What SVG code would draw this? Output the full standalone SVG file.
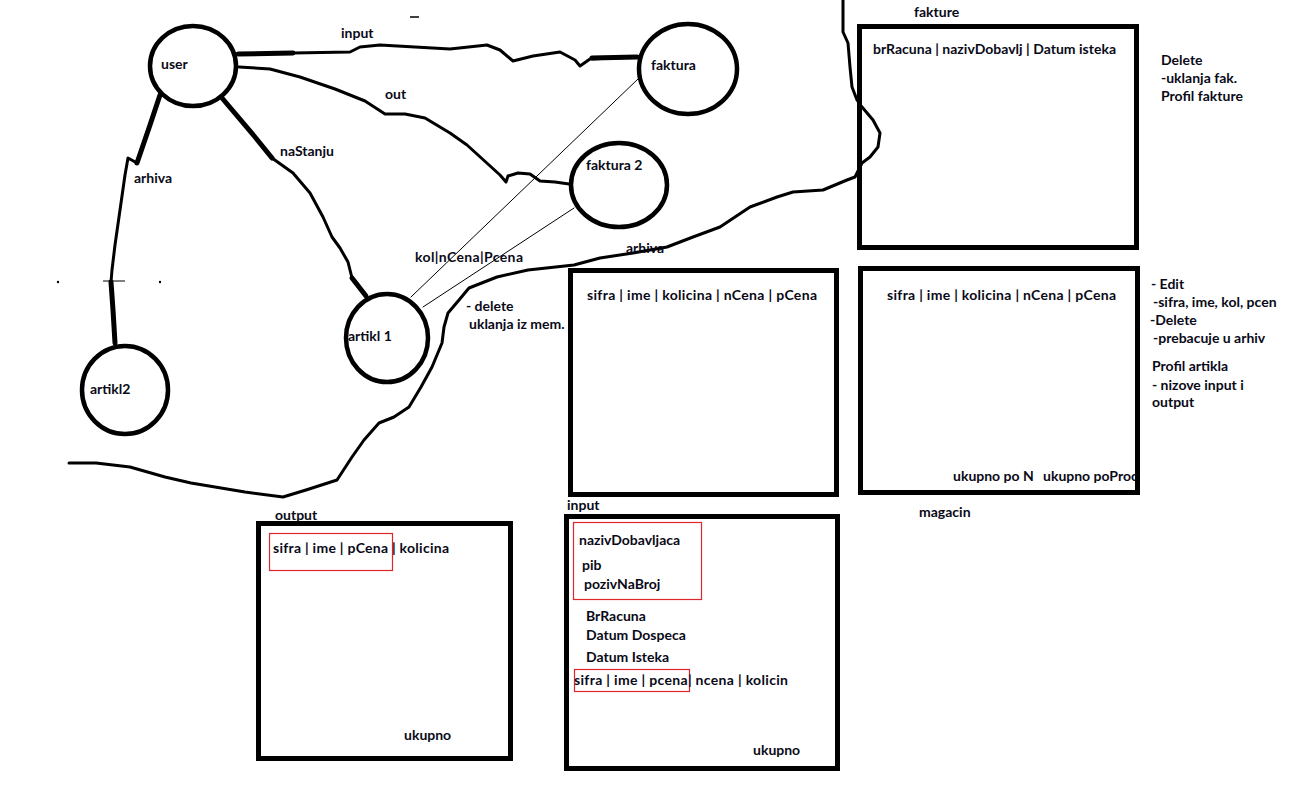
<svg xmlns="http://www.w3.org/2000/svg" width="1298" height="808" viewBox="0 0 1298 808">
<style>
.t{font-family:Lato,"Liberation Sans",sans-serif;font-weight:700;font-size:14px;fill:#0a0a18}
.node{fill:#fff;stroke:#000;stroke-width:4.5}
.box{fill:none;stroke:#000;stroke-width:5}
.hl{fill:none;stroke:#e0262b;stroke-width:1.2}
.wire{fill:none;stroke:#000;stroke-width:3;stroke-linejoin:round;stroke-linecap:round}
.thick{stroke-width:5}
.thin{stroke-width:1}
</style>
<rect width="1298" height="808" fill="#fff"/>
<g id="connectors">
  <!-- input: user -> faktura -->
  <path class="wire" d="M238,54 L293,53 L350,52 L360,47 L380,45 L450,49 L487,45 L500,50 L513,61 L533,56 L560,52 L575,60 L580,66 L590,59 L637,57"/>
  <path class="wire thick" d="M238,54 L293,53"/>
  <path class="wire thick" d="M592,58 L637,57"/>
  <!-- out: user -> faktura 2 -->
  <path class="wire" d="M239,67 L270,69 L300,77 L335,89 L365,101 L385,114 L405,114 L425,118 L450,133 L467,145 L500,175 L506,182 L508,176 L518,173 L530,174 L540,181 L555,182 L569,184"/>
  <!-- naStanju: user -> artikl 1 -->
  <path class="wire" d="M272,158 L293,173 L310,193 L323,217 L332,237 L340,248 L348,262 L352,278"/>
  <path class="wire thick" d="M222,98 L255,137 L272,158"/>
  <path class="wire thick" d="M352,278 L366,296"/>
  <!-- arhiva: user -> artikl2 -->
  <path class="wire thick" d="M160,95 L150,125 L137,163"/>
  <path class="wire" d="M137,163 L128,158 L125,175 L120,210 L115,245 L112,270 L111,282"/>
  <path class="wire thick" d="M111,282 L113,310 L115,343"/>
  <!-- kol|nCena|Pcena thin links -->
  <path class="wire thin" d="M411,297 L638,79"/>
  <path class="wire thin" d="M423,307 L574,208"/>
  <!-- big arhiva boundary -->
  <path class="wire" d="M843,0 L843,32 L848,43 L850,67 L852,87 L857,100 L862,107 L873,120 L880,133 L878,147 L870,157 L862,163 L855,177 L847,180 L823,190 L793,192 L777,197 L750,207 L720,227 L693,237 L667,247 L633,253 L600,258 L574,265 L528,270 L497,277 L469,288 L459,300 L448,313 L444,327 L442,343 L432,367 L421,387 L409,407 L394,417 L379,423 L364,440 L352,457 L337,480 L306,490 L283,497 L245,492 L191,483 L165,477 L130,467 L96,463 L69,463"/>
  <!-- stray marks -->
  <path d="M410,17 L419,17" stroke="#000" stroke-width="1.5"/>
  <path d="M103,281 L125,281" stroke="#000" stroke-width="1"/>
  <circle cx="58" cy="282" r="1.2" fill="#000"/>
  <circle cx="160" cy="282" r="1.2" fill="#000"/>
  <!-- connector labels -->
  <text class="t" x="341" y="38">input</text>
  <text class="t" x="385" y="99">out</text>
  <text class="t" x="280" y="156">naStanju</text>
  <text class="t" x="134" y="183">arhiva</text>
  <text class="t" x="415" y="262" textLength="108">kol|nCena|Pcena</text>
  <text class="t" x="626" y="253">arhiva</text>
  <text class="t" x="466" y="311">- delete</text>
  <text class="t" x="469" y="329">uklanja iz mem.</text>
</g>
<g id="user">
  <ellipse class="node" cx="193" cy="66" rx="43" ry="40"/>
  <text class="t" x="161" y="69">user</text>
</g>
<g id="faktura">
  <ellipse class="node" cx="688" cy="69" rx="49" ry="45"/>
  <text class="t" x="651" y="70">faktura</text>
</g>
<g id="faktura2">
  <ellipse class="node" cx="619" cy="185" rx="48" ry="42"/>
  <text class="t" x="586" y="170">faktura 2</text>
</g>
<g id="artikl1">
  <ellipse class="node" cx="387" cy="338" rx="41" ry="44"/>
  <text class="t" x="348" y="341">artikl 1</text>
</g>
<g id="artikl2">
  <ellipse class="node" cx="125" cy="390" rx="43" ry="44"/>
  <text class="t" x="90" y="394">artikl2</text>
</g>
<g id="fakture">
  <text class="t" x="914" y="17">fakture</text>
  <rect class="box" x="859.5" y="26.5" width="277" height="221"/>
  <text class="t" x="873" y="54" textLength="243">brRacuna | nazivDobavlj | Datum isteka</text>
  <text class="t" x="1161" y="65">Delete</text>
  <text class="t" x="1161" y="83">-uklanja fak.</text>
  <text class="t" x="1161" y="101">Profil fakture</text>
</g>
<g id="artikli">
  <rect class="box" x="570.5" y="270.5" width="266" height="224"/>
  <text class="t" x="587" y="300" textLength="230">sifra | ime | kolicina | nCena | pCena</text>
</g>
<g id="magacin">
  <rect class="box" x="860.5" y="268.5" width="277" height="224"/>
  <text class="t" x="887" y="300" textLength="229">sifra | ime | kolicina | nCena | pCena</text>
  <text class="t" x="953" y="481">ukupno po N</text>
  <text class="t" x="1043" y="481">ukupno poProc</text>
  <text class="t" x="919" y="517">magacin</text>
  <text class="t" x="1151" y="289">- Edit</text>
  <text class="t" x="1153" y="307">-sifra, ime, kol, pcen</text>
  <text class="t" x="1150" y="325">-Delete</text>
  <text class="t" x="1153" y="343">-prebacuje u arhiv</text>
  <text class="t" x="1152" y="371">Profil artikla</text>
  <text class="t" x="1152" y="390">- nizove input i</text>
  <text class="t" x="1152" y="407">output</text>
</g>
<g id="output">
  <text class="t" x="275" y="520">output</text>
  <rect class="box" x="258.5" y="523.5" width="252" height="235"/>
  <rect class="hl" x="269.5" y="533.5" width="123" height="37"/>
  <text class="t" x="273" y="553" textLength="176">sifra | ime | pCena | kolicina</text>
  <text class="t" x="404" y="740">ukupno</text>
</g>
<g id="input">
  <text class="t" x="567" y="510">input</text>
  <rect class="box" x="566.5" y="516.5" width="271" height="252"/>
  <rect class="hl" x="573.5" y="522.5" width="128" height="77"/>
  <text class="t" x="579" y="545">nazivDobavljaca</text>
  <text class="t" x="582" y="570">pib</text>
  <text class="t" x="584" y="589">pozivNaBroj</text>
  <text class="t" x="586" y="621">BrRacuna</text>
  <text class="t" x="586" y="640">Datum Dospeca</text>
  <text class="t" x="586" y="662">Datum Isteka</text>
  <rect class="hl" x="574.5" y="669.5" width="115" height="22"/>
  <text class="t" x="574" y="685" textLength="214">sifra | ime | pcena| ncena | kolicin</text>
  <text class="t" x="753" y="755">ukupno</text>
</g>
</svg>
